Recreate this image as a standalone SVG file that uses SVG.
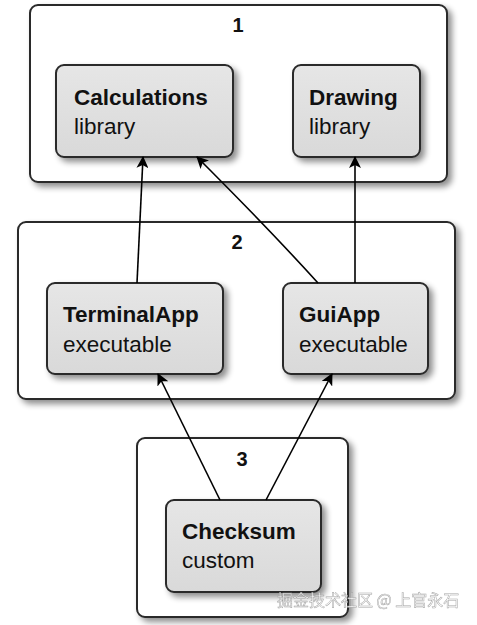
<svg xmlns="http://www.w3.org/2000/svg" width="477" height="625" viewBox="0 0 477 625">
<style>
.grp{fill:#fff;stroke:#2a2a2a;stroke-width:2}
.node{fill:url(#ng);stroke:#2a2a2a;stroke-width:2}
.num{font-family:"Liberation Sans",Arial,sans-serif;font-weight:bold;font-size:20px;fill:#111;text-anchor:middle}
.t{font-family:"Liberation Sans",Arial,sans-serif;font-weight:bold;font-size:22.5px;fill:#111}
.s{font-family:"Liberation Sans",Arial,sans-serif;font-size:22.5px;fill:#111}
.edge{stroke:#000;stroke-width:1.6;fill:none;marker-end:url(#ah)}
.wm{font-family:"Noto Sans CJK SC","Liberation Sans",sans-serif;font-size:16px;fill:#fff;stroke:#999;stroke-width:0.5;opacity:0.9}
</style>
<defs>
<linearGradient id="ng" x1="0" y1="0" x2="0" y2="1">
<stop offset="0" stop-color="#e6e6e6"/>
<stop offset="1" stop-color="#d9d9d9"/>
</linearGradient>
<filter id="sh" x="-10%" y="-10%" width="130%" height="130%">
<feGaussianBlur in="SourceAlpha" stdDeviation="3"/>
<feOffset dx="4" dy="4" result="b"/>
<feComponentTransfer><feFuncA type="linear" slope="0.45"/></feComponentTransfer>
<feMerge><feMergeNode/><feMergeNode in="SourceGraphic"/></feMerge>
</filter>
<marker id="ah" viewBox="0 0 12 12" refX="11" refY="6" markerWidth="12" markerHeight="12" markerUnits="userSpaceOnUse" orient="auto">
<path d="M0,0 L12,6 L0,12 L3,6 Z" fill="#000"/>
</marker>
</defs>

<g id="group1">
<rect class="grp" x="30" y="5" width="417" height="177" rx="8" filter="url(#sh)"/>
<text class="num" x="238" y="32">1</text>
</g>
<g id="group2">
<rect class="grp" x="18" y="222" width="437" height="177" rx="8" filter="url(#sh)"/>
<text class="num" x="237" y="249">2</text>
</g>
<g id="group3">
<rect class="grp" x="137" y="438" width="211" height="179" rx="8" filter="url(#sh)"/>
<text class="num" x="242" y="466">3</text>
</g>

<g id="calculations">
<rect class="node" x="56" y="65" width="177" height="92" rx="8" filter="url(#sh)"/>
<text class="t" x="74" y="105">Calculations</text>
<text class="s" x="74" y="134">library</text>
</g>
<g id="drawing">
<rect class="node" x="293" y="65" width="127" height="92" rx="8" filter="url(#sh)"/>
<text class="t" x="309" y="105">Drawing</text>
<text class="s" x="309" y="134">library</text>
</g>
<g id="terminalapp">
<rect class="node" x="47" y="283" width="176" height="91" rx="8" filter="url(#sh)"/>
<text class="t" x="63" y="322">TerminalApp</text>
<text class="s" x="63" y="352">executable</text>
</g>
<g id="guiapp">
<rect class="node" x="283" y="283" width="145" height="91" rx="8" filter="url(#sh)"/>
<text class="t" x="299" y="322">GuiApp</text>
<text class="s" x="299" y="352">executable</text>
</g>
<g id="checksum">
<rect class="node" x="166" y="500" width="155" height="92" rx="8" filter="url(#sh)"/>
<text class="t" x="182" y="539">Checksum</text>
<text class="s" x="182" y="568">custom</text>
</g>

<g id="connectors">
<path class="edge" d="M137,283 L143,157"/>
<path class="edge" d="M318,283 Q270,230 197,157"/>
<path class="edge" d="M355,283 L355,157"/>
<path class="edge" d="M220,500 L158,374"/>
<path class="edge" d="M266,500 L332,374"/>
</g>

<text class="wm" x="277" y="606">掘金技术社区 @ 上官永石</text>
</svg>
